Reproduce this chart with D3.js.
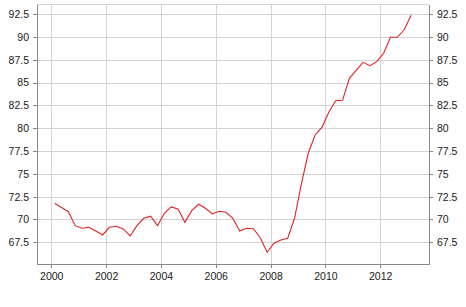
<!DOCTYPE html>
<html>
<head>
<meta charset="utf-8">
<script src="https://cdn.jsdelivr.net/npm/d3@7"></script>
<style>
  body { margin: 0; background: #fff; }
  svg text { font-family: "Liberation Sans", Arial, sans-serif; font-size: 10.5px; fill: #1a1a1a; }
</style>
</head>
<body>
<svg id="chart" width="466" height="307"></svg>
<script>
// quarterly values, 2000 Q1 .. 2013 Q1
const startYear = 2000;
const values = [
  71.77, 71.31, 70.85, 69.32, 69.03, 69.14, 68.74, 68.30,
  69.14, 69.25, 68.96, 68.19, 69.32, 70.13, 70.35, 69.32,
  70.68, 71.37, 71.15, 69.69, 70.96, 71.66, 71.22, 70.60,
  70.89, 70.79, 70.13, 68.74, 69.03, 68.99, 68.00, 66.40,
  67.39, 67.75, 67.94, 70.13, 73.90, 77.25, 79.25, 80.09,
  81.74, 83.00, 83.05, 85.46, 86.33, 87.21, 86.84, 87.28,
  88.20, 89.95, 89.95, 90.78, 92.36
];
const xTicks = [2000, 2002, 2004, 2006, 2008, 2010, 2012];
const yTicks = [67.5, 70, 72.5, 75, 77.5, 80, 82.5, 85, 87.5, 90, 92.5];

const data = values.map((v, i) => ({ t: startYear + (i + 0.5) / 4, v: v }));

const mLeft = 37, mRight = 429, mTop = 4, mBottom = 264;
const svg = d3.select("#chart");

const x = d3.scaleLinear().domain([1999.48, 2013.78]).range([mLeft, mRight]);
const y = d3.scaleLinear().domain([65.12, 93.6]).range([mBottom, mTop]);

// grid
const grid = svg.append("g").attr("stroke", "#d3d3d3").attr("shape-rendering", "crispEdges");
grid.selectAll(".gx").data(xTicks).enter().append("line")
  .attr("x1", d => Math.round(x(d)) + 0.5).attr("x2", d => Math.round(x(d)) + 0.5)
  .attr("y1", mTop).attr("y2", mBottom);
grid.selectAll(".gy").data(yTicks).enter().append("line")
  .attr("x1", mLeft).attr("x2", mRight)
  .attr("y1", d => Math.round(y(d)) + 0.5).attr("y2", d => Math.round(y(d)) + 0.5);
grid.append("line").attr("x1", mLeft).attr("x2", mRight).attr("y1", mTop + 0.5).attr("y2", mTop + 0.5);

// axes
const fmt = d => String(d);
const axL = svg.append("g").attr("transform", `translate(${mLeft},0)`)
  .call(d3.axisLeft(y).tickValues(yTicks).tickFormat(fmt).tickSize(4).tickSizeOuter(0).tickPadding(4));
const axR = svg.append("g").attr("transform", `translate(${mRight},0)`)
  .call(d3.axisRight(y).tickValues(yTicks).tickFormat(fmt).tickSize(4).tickSizeOuter(0).tickPadding(4));
const axB = svg.append("g").attr("transform", `translate(0,${mBottom})`)
  .call(d3.axisBottom(x).tickValues(xTicks).tickFormat(d3.format("d")).tickSize(4).tickSizeOuter(0).tickPadding(5));

[axL, axR, axB].forEach(g => {
  g.select(".domain").attr("stroke", "#888").attr("shape-rendering", "crispEdges");
  g.selectAll(".tick line").attr("stroke", "#888").attr("shape-rendering", "crispEdges");
  g.selectAll("text").attr("fill", "#1a1a1a");
});

// line
svg.append("path")
  .datum(data)
  .attr("fill", "none")
  .attr("stroke", "#e02424")
  .attr("stroke-width", 1.1)
  .attr("d", d3.line().x(d => x(d.t)).y(d => y(d.v)));
</script>
</body>
</html>
